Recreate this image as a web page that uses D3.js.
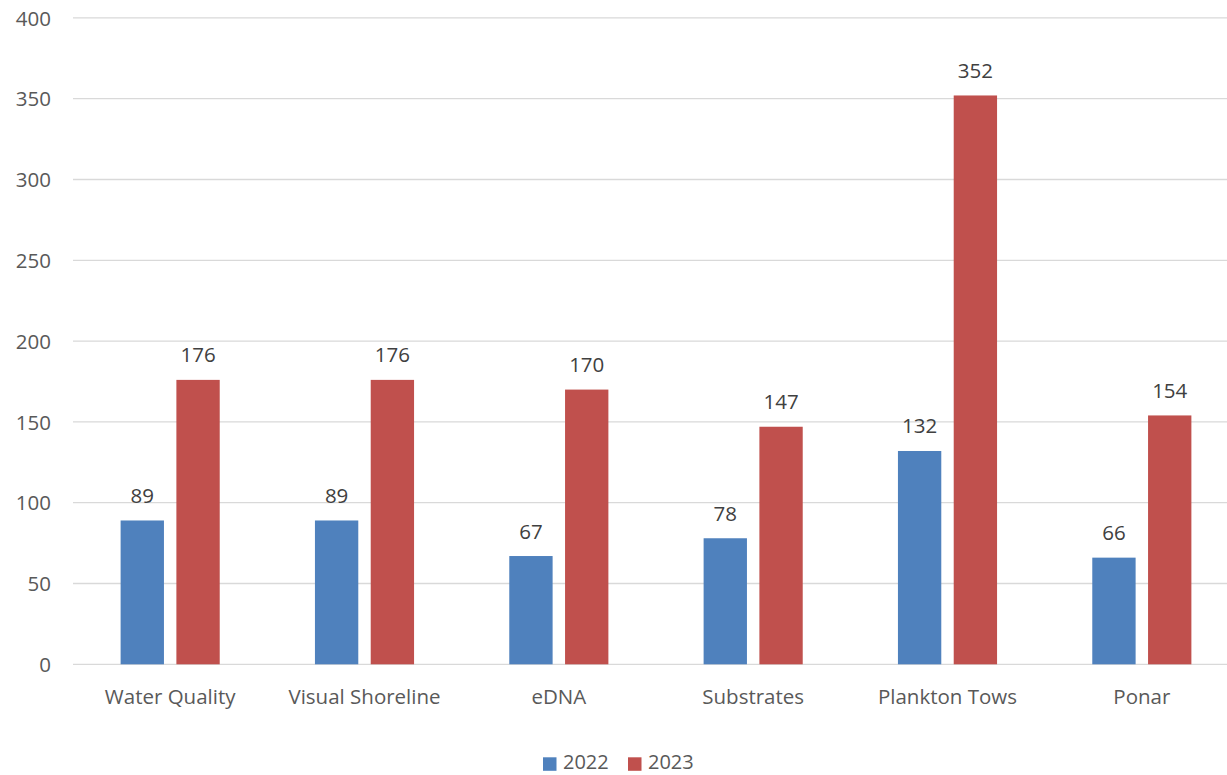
<!DOCTYPE html>
<html><head><meta charset="utf-8">
<script src="https://cdn.jsdelivr.net/npm/d3@7"></script>
<style>body{margin:0;background:#fff}svg{display:block}text{font-family:"Open Sans",sans-serif}</style>
</head><body><svg id="c" width="1227" height="775"></svg>
<script>
const categories = ["Water Quality","Visual Shoreline","eDNA","Substrates","Plankton Tows","Ponar"];
const seriesNames = ["2022","2023"];
const values2022 = [89,89,67,78,132,66];
const values2023 = [176,176,170,147,352,154];
const yTicks = [0,50,100,150,200,250,300,350,400];
const colors = ["#4F81BD","#C0504D"];

const svg = d3.select("#c");
const pLeft = 73, pRight = 1239, pTop = 17.9, pBottom = 664.3;
const x = d3.scaleBand().domain(categories).range([pLeft,pRight]).paddingInner(0.49).paddingOuter(0.245);
const x1 = d3.scaleBand().domain(seriesNames).range([0,x.bandwidth()]).paddingInner(0.223);
const y = d3.scaleLinear().domain([0,400]).range([pBottom,pTop]);

// gridlines
svg.append("g").selectAll("line").data(yTicks).join("line")
  .attr("x1",pLeft).attr("x2",1227).attr("y1",d=>y(d)).attr("y2",d=>y(d))
  .attr("stroke","#D9D9D9").attr("stroke-width",1.3);

// y axis labels
const yAxis = d3.axisLeft(y).tickValues(yTicks).tickSize(0).tickPadding(0);
const ga = svg.append("g").attr("transform","translate(51,0)").call(yAxis);
ga.select(".domain").remove();
ga.selectAll("text").attr("fill","#595959").attr("font-size","20.5px").attr("font-family","Open Sans").attr("dy","0.35em");

// x axis labels
const xAxis = d3.axisBottom(x).tickSize(0).tickPadding(0);
const gx = svg.append("g").attr("transform",`translate(0,${pBottom})`).call(xAxis);
gx.select(".domain").remove();
gx.selectAll("text").attr("fill","#595959").attr("font-size","20.5px").attr("font-family","Open Sans").attr("dy",0).attr("y",40);

const series = [values2022, values2023];
const groups = svg.append("g").selectAll("g").data(series).join("g");
groups.each(function(vals, si){
  const g = d3.select(this);
  g.selectAll("rect").data(vals).join("rect")
    .attr("x",(d,i)=>x(categories[i])+x1(seriesNames[si]))
    .attr("width",x1.bandwidth())
    .attr("y",d=>y(d))
    .attr("height",d=>pBottom-y(d))
    .attr("fill",colors[si]);
  g.selectAll("text").data(vals).join("text")
    .attr("x",(d,i)=>x(categories[i])+x1(seriesNames[si])+x1.bandwidth()/2)
    .attr("y",d=>y(d)-17.5)
    .attr("text-anchor","middle")
    .attr("fill","#404040").attr("font-size","20.5px")
    .text(d=>d);
});

// legend
const leg = svg.append("g");
const legX = [543, 628];
seriesNames.forEach((s,i)=>{
  leg.append("rect").attr("x",legX[i]).attr("y",757.3).attr("width",13.5).attr("height",13.5).attr("fill",colors[i]);
  leg.append("text").attr("x",legX[i]+20).attr("y",769).attr("fill","#595959").attr("font-size","20px").text(s);
});
</script></body></html>
